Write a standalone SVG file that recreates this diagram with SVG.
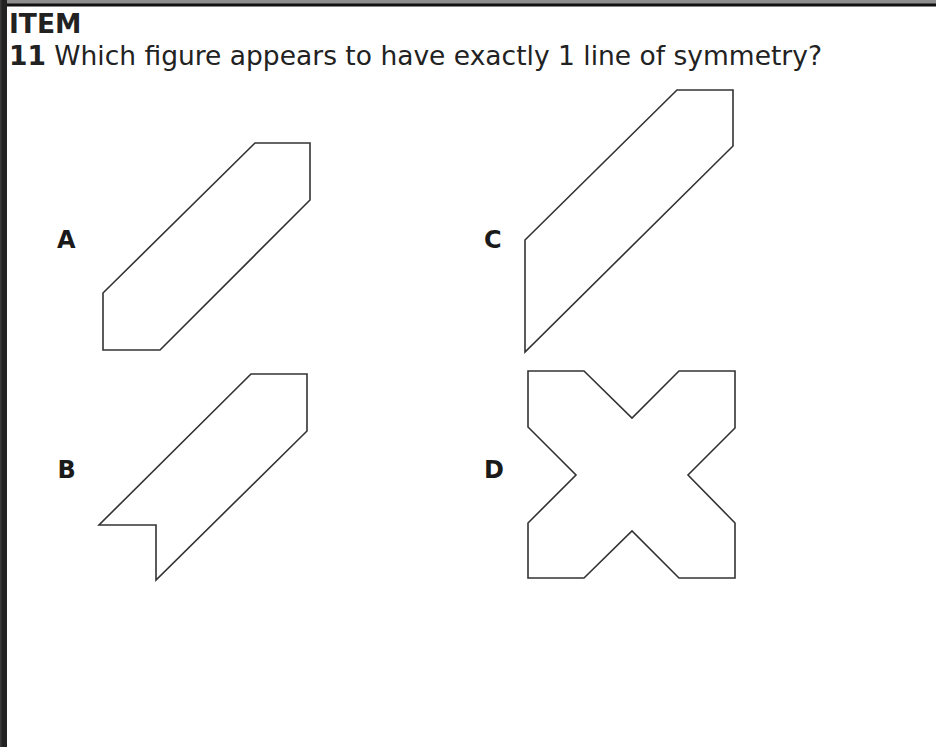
<svg xmlns="http://www.w3.org/2000/svg" width="936" height="747" viewBox="0 0 936 747">
<style>
.shape{fill:none;stroke:#333;stroke-width:1.6;stroke-linejoin:miter}
.title{font-family:"DejaVu Sans","Liberation Sans",sans-serif;font-size:26.5px;fill:#222}
.b{font-weight:bold}
.lbl{font-family:"DejaVu Sans","Liberation Sans",sans-serif;font-size:24px;font-weight:bold;fill:#1a1a1a}
</style>
<rect x="0" y="0" width="936" height="747" fill="#ffffff"/>
<rect x="0" y="0" width="936" height="4" fill="#8e8e8e"/>
<rect x="0" y="3.5" width="936" height="3" fill="#111"/>
<rect x="0" y="0" width="7" height="747" fill="#222"/>
<rect x="0" y="0" width="1.5" height="747" fill="#3a3a3a"/>
<g id="header">
<text class="title b" x="9" y="33">ITEM</text>
<text class="title" x="9" y="65"><tspan class="b">11</tspan> Which figure appears to have exactly 1 line of symmetry?</text>
</g>
<g id="connectors"></g>
<g id="figA">
<polygon class="shape" points="103,293 255,143 310,143 310,200 160,350 103,350"/>
<text class="lbl" x="57" y="248">A</text>
</g>
<g id="figB">
<polygon class="shape" points="251,374 307,374 307,431 156,580 156,525 99,525"/>
<text class="lbl" x="57.5" y="478">B</text>
</g>
<g id="figC">
<polygon class="shape" points="525,240 677,90 733,90 733,146 525,352"/>
<text class="lbl" x="484" y="248">C</text>
</g>
<g id="figD">
<polygon class="shape" points="528,371 584,371 632,418 679,371 735,371 735,428 688,475 735,523 735,578 679,578 632,531 584,578 528,578 528,523 576,475 528,427"/>
<text class="lbl" x="484" y="478">D</text>
</g>
</svg>
